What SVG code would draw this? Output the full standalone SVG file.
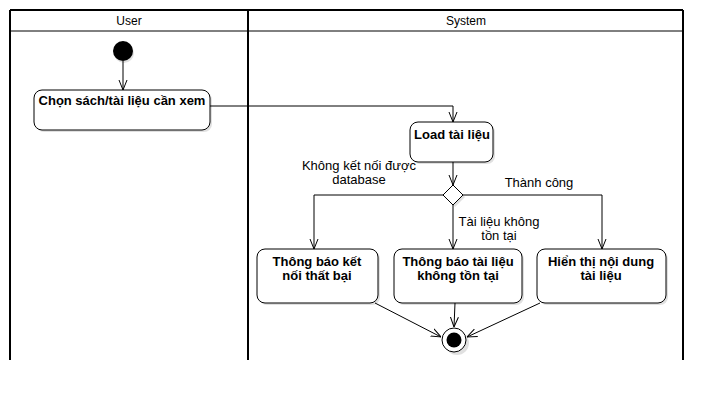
<svg xmlns="http://www.w3.org/2000/svg" width="722" height="401" viewBox="0 0 722 401">
<style>
.t{font-family:"Liberation Sans",Arial,sans-serif;font-size:13px;fill:#000}
.h{font-size:12px}
.b{font-weight:bold;font-size:13px}
.node{fill:#fff;stroke:#000;stroke-width:1}
.sh{fill:#000;opacity:0.12}
.c{fill:none;stroke:#000;stroke-width:1}
</style>
<defs>
<marker id="a" viewBox="0 0 10 10" refX="10" refY="5" markerWidth="10" markerHeight="10" markerUnits="userSpaceOnUse" orient="auto">
<polyline points="0,1 10,5 0,9" fill="none" stroke="#000" stroke-width="1"/>
</marker>
</defs>
<rect width="722" height="401" fill="#fff"/>
<g id="lanes">
<line x1="10" y1="10" x2="683" y2="10" stroke="#000" stroke-width="2"/>
<line x1="10" y1="31" x2="683" y2="31" stroke="#000" stroke-width="1"/>
<line x1="10" y1="10" x2="10" y2="360" stroke="#000" stroke-width="2"/>
<line x1="248" y1="10" x2="248" y2="360" stroke="#000" stroke-width="2"/>
<line x1="683" y1="10" x2="683" y2="360" stroke="#000" stroke-width="2"/>
<text class="t h" x="129" y="25" text-anchor="middle">User</text>
<text class="t h" x="466" y="25" text-anchor="middle">System</text>
</g>
<g id="connectors">
<line class="c" x1="123" y1="61" x2="123" y2="90" marker-end="url(#a)"/>
<polyline class="c" points="210,106 453,106 453,122" marker-end="url(#a)"/>
<line class="c" x1="453" y1="162" x2="453" y2="185" marker-end="url(#a)"/>
<polyline class="c" points="443,195 314,195 314,249" marker-end="url(#a)"/>
<polyline class="c" points="463,195 602,195 602,249" marker-end="url(#a)"/>
<line class="c" x1="453" y1="205" x2="453" y2="249" marker-end="url(#a)"/>
<line class="c" x1="375" y1="303" x2="441" y2="337" marker-end="url(#a)"/>
<line class="c" x1="455" y1="303" x2="454" y2="327" marker-end="url(#a)"/>
<line class="c" x1="540" y1="303" x2="467" y2="337" marker-end="url(#a)"/>
<text class="t" x="359" y="170" text-anchor="middle">Không kết nối được</text>
<text class="t" x="359" y="184" text-anchor="middle">database</text>
<text class="t" x="539" y="187" text-anchor="middle">Thành công</text>
<text class="t" x="499" y="226" text-anchor="middle">Tài liệu không</text>
<text class="t" x="499" y="240" text-anchor="middle">tồn tại</text>
</g>
<g id="start">
<circle cx="124" cy="53" r="10" class="sh"/>
<circle cx="123" cy="51" r="10" fill="#000"/>
</g>
<g id="chon">
<rect x="36" y="92" width="176" height="40" rx="8" class="sh"/>
<rect x="34" y="90" width="176" height="40" rx="8" class="node"/>
<text class="t b" x="122" y="105" text-anchor="middle">Chọn sách/tài liệu cần xem</text>
</g>
<g id="load">
<rect x="412" y="124" width="83" height="40" rx="8" class="sh"/>
<rect x="410" y="122" width="83" height="40" rx="8" class="node"/>
<text class="t b" x="452" y="139" text-anchor="middle">Load tài liệu</text>
</g>
<g id="decision">
<polygon points="455,188 465,197 455,207 445,197" class="sh"/>
<polygon points="453,185 463,195 453,205 443,195" class="node"/>
</g>
<g id="ketnoi">
<rect x="259" y="251" width="121" height="54" rx="8" class="sh"/>
<rect x="257" y="249" width="121" height="54" rx="8" class="node"/>
<text class="t b" x="317" y="266" text-anchor="middle">Thông báo kết</text>
<text class="t b" x="317" y="280" text-anchor="middle">nối thất bại</text>
</g>
<g id="khongton">
<rect x="396" y="251" width="128" height="54" rx="8" class="sh"/>
<rect x="394" y="249" width="128" height="54" rx="8" class="node"/>
<text class="t b" x="458" y="266" text-anchor="middle">Thông báo tài liệu</text>
<text class="t b" x="458" y="280" text-anchor="middle">không tồn tại</text>
</g>
<g id="hienthi">
<rect x="539" y="251" width="129" height="54" rx="8" class="sh"/>
<rect x="537" y="249" width="129" height="54" rx="8" class="node"/>
<text class="t b" x="601" y="266" text-anchor="middle">Hiển thị nội dung</text>
<text class="t b" x="601" y="280" text-anchor="middle">tài liệu</text>
</g>
<g id="end">
<circle cx="457" cy="343" r="12" class="sh"/>
<circle cx="454" cy="340" r="12" fill="#fff" stroke="#000" stroke-width="1"/>
<circle cx="454" cy="340" r="7.5" fill="#000"/>
</g>
</svg>
